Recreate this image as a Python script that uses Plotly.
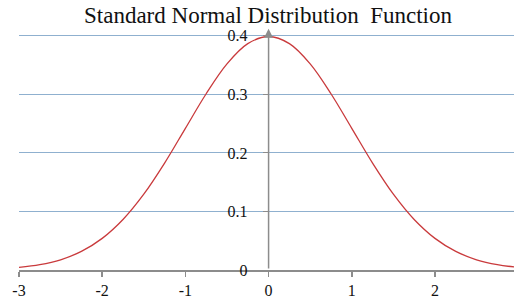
import plotly.graph_objects as go

x_vals = [-3, -2.75, -2.5, -2.25, -2, -1.75, -1.5, -1.25, -1, -0.75, -0.5, -0.25, 0,
          0.25, 0.5, 0.75, 1, 1.25, 1.5, 1.75, 2, 2.25, 2.5, 2.75, 3]
density = [0.0044, 0.0091, 0.0175, 0.0317, 0.054, 0.0863, 0.1295, 0.1826, 0.242, 0.3011,
           0.3521, 0.3867, 0.3989, 0.3867, 0.3521, 0.3011, 0.242, 0.1826, 0.1295, 0.0863,
           0.054, 0.0317, 0.0175, 0.0091, 0.0044]
x_ticks = [-3, -2, -1, 0, 1, 2, 3]
y_ticks = [0, 0.1, 0.2, 0.3, 0.4]
title_text = "Standard Normal Distribution\u00a0 Function"

font_family = "Liberation Serif, Times New Roman, serif"

W, H = 514, 306
x_lo, x_hi = -3, 2.95

fig = go.Figure()
fig.add_trace(go.Scatter(x=x_vals, y=density, mode="lines",
                         line=dict(color="#c93a3c", width=1.3, shape="spline", smoothing=1.0),
                         hoverinfo="skip", showlegend=False, cliponaxis=False))

fig.update_layout(
    width=W, height=H,
    margin=dict(l=19, r=0, t=30, b=36, autoexpand=False),
    paper_bgcolor="white", plot_bgcolor="white",
    title=dict(text=title_text, x=268 / W, xanchor="center", y=1 - 7 / H, yanchor="top",
               font=dict(family=font_family, size=23, color="#111111"), automargin=False),
    xaxis=dict(range=[x_lo, x_hi], tickvals=x_ticks, ticktext=[str(v) for v in x_ticks],
               automargin=False,
               showgrid=False, zeroline=False, showline=True, linecolor="#8c8c8c", linewidth=1.5,
               ticks="outside", ticklen=5, tickcolor="#8c8c8c", tickwidth=1.5,
               tickfont=dict(family=font_family, size=16, color="#111111")),
    yaxis=dict(range=[0, 0.41], tickvals=y_ticks, ticktext=["0", "0.1", "0.2", "0.3", "0.4"],
               anchor="free", position=(0 - x_lo) / (x_hi - x_lo), showline=False, zeroline=False,
               automargin=False,
               showgrid=True, gridcolor="#8fb0cf", gridwidth=1,
               ticks="outside", ticklen=6, tickcolor="#8c8c8c", tickwidth=1,
               ticklabelstandoff=12,
               tickfont=dict(family=font_family, size=16, color="#111111")),
)

# y axis line with arrow at x=0
fig.add_annotation(x=0, y=0.412, ax=0, ay=0, xref="x", yref="y", axref="x", ayref="y",
                   showarrow=True, arrowhead=2, arrowsize=1.2, arrowwidth=1.5,
                   arrowcolor="#8c8c8c", text="")

fig.write_html("out.html", config={"displayModeBar": False, "staticPlot": True},
               post_script="document.body.style.margin='0';document.body.style.overflow='hidden';")
